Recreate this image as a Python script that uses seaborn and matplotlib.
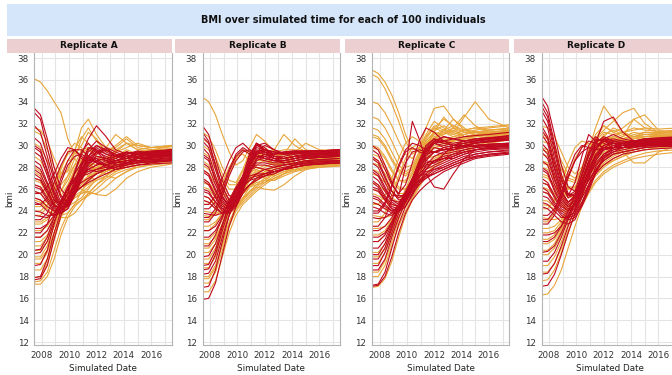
import pandas as pd
import matplotlib
matplotlib.use("Agg")
import matplotlib.pyplot as plt
from matplotlib.patches import Rectangle
import seaborn as sns

# Sampling times (decimal years) shared by every individual
TIMES = [2007.45, 2007.9, 2008.4, 2008.9, 2009.4, 2009.9, 2010.4, 2010.9,
         2011.4, 2012.0, 2012.7, 2013.4, 2014.2, 2015.0, 2016.0, 2017.5]

REPLICATES = ["Replicate A", "Replicate B", "Replicate C", "Replicate D"]
GROUPS = ["F", "M"]

# ---- Replicate A ----
A_F = [
    [36.1, 35.8, 35.0, 34.0, 33.0, 30.6, 29.2, 30.0, 31.2, 30.6, 29.4, 29.8, 30.6, 29.8, 29.6, 29.9],
    [31.6, 31.4, 30.4, 28.8, 27.4, 27.6, 29.4, 31.6, 32.4, 31.0, 29.8, 29.6, 30.2, 30.0, 29.8, 30.0],
    [31.3, 31.0, 29.6, 28.0, 27.0, 27.8, 29.6, 30.8, 30.2, 29.2, 29.8, 31.0, 30.2, 29.6, 29.8, 29.9],
    [30.2, 29.8, 28.6, 27.2, 26.4, 27.2, 28.8, 30.6, 31.6, 30.4, 29.4, 30.0, 30.8, 30.0, 29.8, 30.0],
    [29.0, 28.6, 27.4, 26.2, 25.8, 26.8, 28.2, 29.6, 29.8, 29.0, 28.8, 29.6, 29.2, 29.4, 29.6, 29.7],
    [28.0, 27.6, 26.6, 25.6, 25.4, 26.4, 27.8, 28.8, 28.4, 27.8, 28.2, 28.9, 29.4, 29.0, 29.2, 29.4],
    [27.0, 26.8, 26.0, 25.2, 24.8, 25.2, 26.4, 27.6, 28.4, 28.2, 27.6, 28.2, 28.8, 29.2, 29.0, 29.2],
    [26.4, 26.2, 25.4, 24.6, 24.2, 24.6, 25.6, 26.8, 27.8, 28.6, 28.0, 28.4, 29.0, 28.8, 29.0, 29.3],
    [25.8, 25.6, 24.8, 24.0, 23.6, 23.8, 24.6, 25.8, 26.8, 27.4, 27.8, 27.6, 28.2, 28.6, 28.8, 29.0],
    [25.0, 24.8, 24.2, 23.6, 23.4, 23.4, 23.8, 24.6, 25.6, 26.4, 27.0, 27.6, 28.0, 28.4, 28.6, 28.8],
    [24.4, 24.4, 25.0, 26.4, 28.0, 29.2, 29.6, 29.0, 28.2, 27.8, 28.4, 29.0, 29.4, 29.0, 29.3, 29.5],
    [23.6, 23.6, 24.4, 25.8, 27.4, 28.6, 28.8, 28.0, 27.2, 26.8, 27.2, 28.0, 28.6, 28.8, 29.0, 29.2],
    [22.8, 22.8, 23.2, 24.0, 25.0, 25.8, 26.2, 26.0, 25.6, 25.6, 26.2, 27.0, 27.6, 28.0, 28.3, 28.5],
    [21.6, 21.6, 22.2, 23.4, 24.6, 25.6, 26.4, 27.0, 27.6, 28.0, 27.8, 28.2, 28.8, 29.0, 29.3, 29.5],
    [20.8, 20.8, 21.6, 23.0, 24.4, 25.4, 26.0, 26.2, 26.4, 27.0, 27.6, 28.0, 28.4, 28.8, 29.0, 29.2],
    [19.8, 19.8, 20.8, 22.6, 24.2, 25.2, 25.8, 26.4, 27.0, 27.6, 28.0, 28.6, 28.8, 28.6, 28.8, 29.0],
    [19.2, 19.2, 20.2, 22.0, 23.6, 24.6, 25.2, 25.6, 25.8, 25.5, 25.4, 26.0, 27.0, 27.6, 28.0, 28.3],
    [17.9, 18.0, 19.2, 21.4, 23.4, 24.8, 25.6, 26.2, 26.8, 27.4, 27.8, 28.2, 28.6, 28.8, 29.0, 29.2],
    [17.5, 17.6, 18.4, 20.4, 22.4, 23.8, 24.6, 25.0, 25.6, 26.4, 27.2, 27.8, 28.2, 28.4, 28.6, 28.8],
    [17.3, 17.3, 18.0, 19.6, 21.8, 23.4, 24.4, 25.0, 25.4, 26.0, 26.8, 27.4, 27.8, 28.0, 28.2, 28.4],
    [27.6, 27.2, 26.2, 25.0, 24.6, 25.4, 27.0, 28.6, 29.6, 29.0, 28.4, 29.0, 29.6, 29.2, 29.5, 29.6],
    [26.8, 26.6, 25.6, 24.8, 24.8, 25.8, 27.4, 28.4, 28.2, 27.6, 28.2, 29.2, 28.8, 29.2, 29.4, 29.5],
    [25.2, 25.0, 24.4, 24.0, 24.6, 26.0, 27.8, 29.2, 29.8, 29.0, 28.6, 29.4, 30.2, 29.6, 29.4, 29.7],
    [24.0, 24.0, 24.6, 26.0, 27.8, 29.4, 30.2, 29.8, 29.0, 28.6, 28.8, 29.4, 29.8, 30.2, 29.8, 29.9],
    [23.0, 23.0, 23.4, 24.4, 25.8, 27.2, 28.2, 28.6, 28.2, 27.8, 28.4, 29.0, 28.6, 28.8, 29.2, 29.4],
    [22.2, 22.2, 22.6, 23.6, 24.8, 25.6, 26.2, 26.6, 27.2, 28.0, 28.4, 28.0, 28.4, 29.0, 28.8, 29.0],
    [21.2, 21.2, 21.8, 23.0, 24.2, 25.0, 25.4, 25.8, 26.6, 27.6, 28.4, 28.8, 28.4, 28.6, 29.0, 29.2],
    [20.4, 20.4, 21.2, 22.6, 24.0, 24.8, 25.2, 25.6, 26.2, 26.8, 27.2, 27.0, 27.6, 28.2, 28.4, 28.6],
    [19.6, 19.6, 20.4, 22.0, 23.6, 24.4, 24.8, 25.2, 26.0, 27.0, 27.8, 28.4, 28.8, 29.0, 28.8, 29.0],
    [18.6, 18.6, 19.6, 21.6, 23.6, 25.0, 26.0, 26.6, 27.2, 27.6, 27.4, 27.8, 28.4, 28.6, 28.8, 29.0],
]
A_M = [
    [33.4, 32.8, 30.6, 28.0, 26.0, 25.2, 26.2, 27.8, 29.0, 29.6, 29.2, 29.0, 29.4, 29.2, 29.4, 29.6],
    [33.0, 32.4, 29.8, 27.2, 25.4, 24.8, 25.8, 27.4, 28.6, 29.2, 29.6, 29.2, 29.0, 29.2, 29.3, 29.5],
    [30.7, 30.2, 28.4, 26.2, 24.8, 24.6, 25.8, 27.6, 29.0, 30.0, 29.4, 29.0, 29.2, 29.4, 29.3, 29.4],
    [30.0, 29.6, 27.8, 25.8, 24.6, 25.0, 26.6, 28.4, 29.8, 29.6, 28.8, 28.6, 29.0, 29.2, 29.1, 29.2],
    [29.4, 29.0, 27.2, 25.4, 24.2, 24.4, 25.6, 27.0, 28.2, 29.0, 28.8, 28.4, 28.6, 28.8, 28.9, 29.1],
    [28.6, 28.2, 26.6, 25.0, 24.2, 24.6, 26.0, 27.6, 28.8, 29.4, 29.0, 28.6, 28.8, 29.0, 29.1, 29.3],
    [27.8, 27.4, 26.0, 24.6, 24.0, 24.6, 26.2, 28.0, 29.4, 30.0, 29.6, 29.0, 29.0, 29.2, 29.3, 29.5],
    [27.0, 26.8, 25.6, 24.4, 23.8, 24.2, 25.4, 26.8, 28.0, 28.6, 28.2, 28.0, 28.4, 28.6, 28.7, 28.9],
    [26.4, 26.2, 25.2, 24.4, 24.4, 25.6, 27.4, 29.2, 30.6, 31.8, 30.8, 29.6, 29.2, 29.4, 29.4, 29.6],
    [25.8, 25.6, 24.8, 24.0, 23.8, 24.2, 25.6, 27.2, 28.4, 28.8, 28.2, 27.8, 28.2, 28.4, 28.5, 28.7],
    [25.2, 25.0, 24.4, 24.0, 24.2, 25.2, 26.8, 28.2, 29.0, 28.6, 28.0, 27.8, 28.0, 28.2, 28.4, 28.6],
    [24.6, 24.6, 25.2, 26.6, 28.2, 29.4, 29.6, 29.0, 28.6, 28.8, 28.6, 28.2, 28.4, 28.8, 28.9, 29.1],
    [24.0, 23.9, 23.6, 23.6, 24.0, 25.0, 26.4, 27.8, 28.6, 29.0, 28.8, 28.6, 28.8, 29.0, 29.1, 29.2],
    [23.2, 23.2, 23.8, 25.2, 27.0, 28.6, 29.6, 29.6, 29.0, 28.4, 28.2, 28.4, 28.6, 28.8, 29.0, 29.2],
    [22.4, 22.4, 22.8, 23.6, 24.8, 26.0, 27.0, 27.6, 27.8, 27.6, 27.8, 28.2, 28.4, 28.6, 28.7, 28.8],
    [21.6, 21.6, 22.2, 23.4, 24.8, 26.0, 26.8, 27.2, 27.4, 27.8, 28.2, 28.4, 28.6, 28.6, 28.7, 28.8],
    [20.4, 20.5, 21.6, 23.4, 25.0, 26.2, 27.0, 27.4, 27.6, 27.8, 28.0, 28.2, 28.4, 28.5, 28.6, 28.7],
    [20.1, 20.2, 21.2, 23.0, 24.6, 25.6, 26.2, 26.6, 27.0, 27.4, 27.8, 28.0, 28.2, 28.4, 28.5, 28.6],
    [17.9, 18.0, 19.6, 22.0, 24.0, 25.2, 25.8, 26.2, 26.8, 27.4, 27.8, 28.0, 28.3, 28.4, 28.5, 28.6],
    [17.7, 17.8, 19.0, 21.4, 23.6, 24.8, 25.6, 26.2, 26.6, 27.0, 27.4, 27.8, 28.0, 28.2, 28.3, 28.4],
    [31.8, 31.2, 29.0, 26.8, 25.2, 24.8, 25.6, 27.0, 28.4, 29.4, 29.8, 29.4, 29.0, 29.3, 29.5, 29.6],
    [29.8, 29.4, 27.6, 25.6, 24.4, 24.4, 25.6, 27.4, 29.0, 29.8, 29.2, 28.8, 29.2, 29.5, 29.2, 29.4],
    [28.2, 27.8, 26.4, 25.0, 24.6, 25.6, 27.6, 29.4, 30.2, 29.4, 28.6, 28.8, 29.4, 29.0, 29.2, 29.4],
    [27.4, 27.0, 25.8, 24.6, 24.2, 24.8, 26.4, 28.2, 29.6, 30.4, 29.8, 29.0, 28.8, 29.2, 29.4, 29.5],
    [26.2, 26.0, 25.0, 24.2, 24.0, 24.6, 26.0, 27.6, 28.8, 29.4, 29.6, 29.2, 28.8, 28.9, 29.2, 29.4],
    [25.6, 25.6, 26.2, 27.4, 28.8, 29.8, 29.6, 28.8, 28.4, 28.6, 28.8, 29.0, 29.4, 29.2, 29.0, 29.2],
    [24.8, 24.6, 24.0, 23.6, 23.8, 24.6, 25.8, 27.0, 27.8, 28.2, 28.4, 28.6, 28.4, 28.6, 28.9, 29.0],
    [23.6, 23.5, 23.4, 23.8, 24.8, 26.2, 27.4, 28.4, 28.8, 28.4, 28.2, 28.6, 29.0, 28.8, 28.8, 29.0],
    [22.0, 22.0, 22.8, 24.6, 26.6, 28.2, 29.0, 29.2, 28.8, 28.4, 28.2, 28.6, 28.8, 29.0, 29.2, 29.3],
    [19.0, 19.1, 20.4, 22.8, 24.8, 26.0, 26.8, 27.4, 27.8, 28.2, 28.6, 28.4, 28.6, 28.8, 29.0, 29.1],
]

# ---- Replicate B ----
B_F = [
    [34.4, 34.0, 32.8, 31.0, 29.4, 28.2, 28.6, 29.8, 31.0, 30.4, 29.4, 29.6, 29.6, 29.5, 29.5, 29.6],
    [31.2, 30.8, 29.6, 28.0, 26.8, 26.6, 27.8, 29.4, 29.4, 29.0, 29.6, 31.0, 30.0, 29.4, 29.5, 29.6],
    [30.6, 30.2, 29.0, 27.4, 26.4, 26.4, 27.6, 29.0, 30.2, 29.6, 29.0, 29.2, 30.6, 29.6, 29.4, 29.5],
    [30.0, 29.6, 28.4, 27.0, 26.0, 26.0, 27.0, 28.4, 29.4, 29.8, 29.2, 29.0, 29.4, 30.2, 29.6, 29.5],
    [29.4, 29.0, 27.8, 26.4, 25.4, 25.4, 26.6, 28.0, 29.0, 29.2, 28.8, 28.8, 29.2, 29.3, 29.3, 29.4],
    [28.6, 28.2, 27.2, 25.8, 25.0, 25.4, 26.6, 27.8, 28.6, 28.6, 28.2, 28.6, 29.0, 29.2, 29.2, 29.3],
    [27.8, 27.4, 26.4, 25.2, 24.6, 24.8, 25.8, 27.0, 27.8, 28.2, 28.0, 28.4, 28.8, 29.0, 29.1, 29.2],
    [27.0, 26.6, 25.8, 24.8, 24.2, 24.4, 25.2, 26.2, 27.0, 27.6, 27.8, 28.2, 28.6, 28.8, 28.9, 29.0],
    [26.2, 26.0, 25.2, 24.4, 24.2, 24.6, 25.6, 26.8, 27.6, 27.8, 27.4, 27.8, 28.4, 28.6, 28.8, 28.9],
    [25.4, 25.2, 24.6, 24.0, 23.8, 24.2, 25.0, 25.8, 26.2, 26.0, 25.9, 26.4, 27.2, 27.8, 28.2, 28.5],
    [24.6, 24.6, 25.2, 26.6, 28.0, 29.0, 29.2, 28.6, 28.0, 27.8, 27.6, 27.8, 28.2, 28.4, 28.6, 28.8],
    [23.6, 23.5, 23.6, 24.0, 24.8, 25.8, 26.8, 27.6, 27.8, 27.4, 27.2, 27.6, 28.0, 28.2, 28.4, 28.6],
    [22.6, 22.6, 23.0, 23.8, 24.8, 25.8, 26.6, 27.0, 27.2, 27.2, 27.4, 27.8, 28.0, 28.2, 28.3, 28.4],
    [21.4, 21.4, 22.0, 23.2, 24.4, 25.4, 26.2, 26.8, 27.4, 27.8, 28.0, 28.2, 28.4, 28.6, 28.7, 28.8],
    [20.6, 20.6, 21.4, 22.8, 24.2, 25.2, 25.8, 26.2, 26.4, 26.6, 27.0, 27.4, 27.8, 28.0, 28.2, 28.4],
    [19.6, 19.6, 20.6, 22.4, 24.0, 25.0, 25.6, 26.2, 26.8, 27.4, 27.8, 28.0, 28.2, 28.3, 28.4, 28.5],
    [18.8, 18.8, 19.8, 21.8, 23.6, 24.8, 25.6, 26.2, 26.6, 26.8, 26.8, 27.2, 27.6, 27.8, 28.0, 28.2],
    [18.0, 18.0, 19.0, 21.0, 23.0, 24.4, 25.2, 25.8, 26.4, 27.0, 27.4, 27.8, 28.0, 28.2, 28.3, 28.4],
    [17.4, 17.4, 18.4, 20.4, 22.6, 24.0, 24.8, 25.4, 26.0, 26.6, 27.2, 27.6, 27.8, 28.0, 28.1, 28.2],
    [16.6, 16.6, 17.6, 19.8, 22.0, 23.6, 24.6, 25.2, 25.8, 26.4, 27.0, 27.4, 27.7, 27.9, 28.0, 28.1],
    [28.2, 27.8, 26.8, 25.6, 24.8, 25.0, 26.2, 27.6, 28.8, 29.4, 29.0, 28.8, 29.2, 29.4, 29.3, 29.4],
    [26.6, 26.4, 25.6, 24.6, 24.2, 24.8, 26.2, 27.8, 29.0, 29.6, 29.2, 28.8, 29.0, 29.2, 29.2, 29.3],
    [25.0, 24.8, 24.2, 23.8, 24.0, 24.8, 26.0, 27.2, 28.2, 28.6, 28.2, 28.4, 28.8, 28.6, 28.8, 29.0],
    [24.0, 23.9, 23.8, 24.0, 24.6, 25.6, 26.6, 27.2, 27.4, 27.0, 26.8, 27.4, 28.2, 28.4, 28.4, 28.6],
    [23.2, 23.2, 24.0, 25.6, 27.4, 28.8, 29.6, 29.4, 28.8, 28.6, 28.4, 28.8, 29.0, 28.8, 28.9, 29.0],
    [22.2, 22.2, 22.8, 23.8, 25.0, 26.2, 27.2, 28.0, 28.6, 28.8, 28.4, 28.2, 28.6, 28.8, 28.9, 29.0],
    [21.0, 21.0, 21.6, 22.8, 24.0, 25.0, 25.8, 26.4, 26.8, 27.2, 27.6, 27.8, 27.8, 28.0, 28.2, 28.3],
    [20.2, 20.2, 21.0, 22.6, 24.2, 25.4, 26.2, 26.8, 27.4, 28.0, 28.4, 28.6, 28.4, 28.6, 28.7, 28.8],
    [19.2, 19.2, 20.2, 22.0, 23.8, 25.0, 25.8, 26.4, 27.0, 27.6, 28.0, 28.2, 28.4, 28.5, 28.6, 28.7],
    [17.8, 17.8, 18.8, 20.8, 22.8, 24.2, 25.0, 25.6, 26.2, 26.8, 27.4, 27.8, 28.0, 28.1, 28.2, 28.3],
]
B_M = [
    [31.8, 31.0, 28.8, 26.8, 25.4, 25.2, 26.6, 28.4, 29.6, 29.4, 29.2, 29.4, 29.5, 29.5, 29.5, 29.6],
    [31.2, 30.4, 28.2, 26.2, 25.0, 25.0, 26.4, 28.2, 29.4, 29.6, 29.4, 29.3, 29.4, 29.5, 29.5, 29.6],
    [30.4, 29.8, 27.8, 25.8, 24.6, 24.8, 26.4, 28.4, 30.0, 30.2, 29.6, 29.3, 29.4, 29.4, 29.5, 29.5],
    [29.8, 29.2, 27.2, 25.4, 24.4, 24.6, 26.0, 27.8, 29.2, 29.6, 29.4, 29.2, 29.3, 29.4, 29.4, 29.5],
    [29.0, 28.6, 26.8, 25.2, 24.4, 25.0, 26.8, 28.8, 30.2, 29.6, 29.0, 29.0, 29.2, 29.3, 29.3, 29.4],
    [28.4, 28.0, 26.4, 25.0, 24.2, 24.6, 26.0, 27.6, 28.8, 29.2, 29.0, 28.8, 29.0, 29.1, 29.2, 29.3],
    [27.6, 27.2, 25.8, 24.6, 24.0, 24.6, 26.2, 28.0, 29.4, 30.0, 29.6, 29.2, 29.2, 29.3, 29.3, 29.4],
    [26.8, 26.4, 25.2, 24.2, 23.8, 24.4, 25.8, 27.4, 28.6, 29.0, 28.8, 28.6, 28.8, 29.0, 29.0, 29.1],
    [26.0, 25.8, 24.8, 24.0, 24.0, 25.0, 26.8, 28.8, 30.2, 29.8, 29.0, 28.8, 29.0, 29.1, 29.2, 29.2],
    [25.4, 25.2, 24.4, 23.8, 23.8, 24.6, 26.0, 27.6, 28.8, 29.2, 28.8, 28.4, 28.6, 28.8, 28.9, 29.0],
    [24.6, 24.6, 25.4, 27.0, 28.6, 29.8, 30.2, 29.6, 29.0, 28.8, 28.6, 28.6, 28.8, 29.0, 29.1, 29.2],
    [23.8, 23.7, 23.6, 23.8, 24.6, 25.8, 27.2, 28.4, 29.0, 29.0, 28.6, 28.4, 28.6, 28.8, 28.9, 29.0],
    [23.0, 23.0, 23.8, 25.4, 27.2, 28.6, 29.4, 29.6, 29.2, 28.8, 28.6, 28.6, 28.8, 28.9, 29.0, 29.1],
    [22.2, 22.2, 22.6, 23.6, 24.8, 26.0, 27.0, 27.8, 28.2, 28.2, 28.0, 28.2, 28.4, 28.6, 28.7, 28.8],
    [20.8, 20.8, 21.8, 23.4, 25.0, 26.2, 27.2, 27.8, 28.0, 27.8, 27.6, 27.8, 28.2, 28.4, 28.5, 28.6],
    [19.8, 19.9, 21.0, 22.8, 24.6, 25.8, 26.6, 27.0, 27.2, 27.4, 27.6, 27.8, 28.0, 28.2, 28.3, 28.4],
    [19.0, 19.1, 20.4, 22.6, 24.6, 26.0, 26.8, 27.2, 27.4, 27.4, 27.6, 27.9, 28.2, 28.4, 28.5, 28.6],
    [18.6, 18.7, 20.0, 22.2, 24.2, 25.6, 26.4, 26.8, 27.0, 27.2, 27.4, 27.8, 28.0, 28.2, 28.3, 28.4],
    [18.2, 18.3, 19.4, 21.6, 23.6, 25.0, 25.8, 26.4, 26.8, 27.2, 27.6, 27.8, 28.0, 28.2, 28.3, 28.4],
    [15.9, 16.0, 17.4, 20.0, 22.6, 24.4, 25.6, 26.4, 27.0, 27.4, 27.8, 28.0, 28.2, 28.3, 28.4, 28.5],
    [30.8, 30.2, 28.2, 26.2, 25.0, 25.2, 26.8, 28.6, 29.8, 29.6, 29.2, 29.4, 29.5, 29.4, 29.5, 29.6],
    [29.2, 28.8, 26.8, 25.2, 24.6, 25.4, 27.2, 29.2, 30.0, 29.6, 29.2, 29.2, 29.4, 29.4, 29.5, 29.5],
    [27.8, 27.4, 26.0, 24.8, 24.2, 24.8, 26.4, 28.2, 29.4, 29.6, 29.4, 29.2, 29.3, 29.4, 29.4, 29.5],
    [27.0, 26.6, 25.4, 24.4, 24.2, 25.2, 27.2, 29.2, 30.2, 29.4, 28.8, 28.8, 29.0, 29.2, 29.3, 29.3],
    [25.8, 25.6, 24.8, 24.2, 24.4, 25.4, 27.0, 28.6, 29.4, 29.2, 28.8, 28.8, 29.0, 29.2, 29.2, 29.3],
    [25.0, 24.8, 24.2, 23.8, 24.0, 25.0, 26.6, 28.2, 29.2, 29.4, 29.0, 28.8, 29.0, 29.1, 29.2, 29.2],
    [24.2, 24.2, 24.8, 26.2, 27.8, 29.2, 29.8, 29.4, 29.0, 28.8, 28.6, 28.6, 28.8, 29.0, 29.0, 29.1],
    [23.4, 23.4, 24.2, 25.8, 27.6, 29.0, 29.6, 29.2, 28.8, 28.6, 28.4, 28.4, 28.6, 28.8, 28.9, 29.0],
    [21.6, 21.6, 22.2, 23.4, 24.8, 26.0, 27.0, 27.8, 28.4, 28.4, 28.2, 28.2, 28.4, 28.6, 28.7, 28.8],
    [17.0, 17.1, 18.6, 21.2, 23.6, 25.2, 26.2, 26.8, 27.4, 27.8, 28.0, 28.2, 28.3, 28.5, 28.6, 28.6],
]

# ---- Replicate C ----
C_F = [
    [36.9, 36.6, 35.8, 34.6, 33.0, 31.0, 29.6, 29.8, 31.0, 32.2, 31.6, 31.0, 31.4, 31.6, 31.7, 31.9],
    [36.5, 36.2, 35.2, 33.8, 32.2, 30.4, 29.2, 29.6, 30.8, 31.6, 32.4, 31.8, 31.2, 31.4, 31.6, 31.8],
    [34.0, 33.8, 33.0, 31.8, 30.4, 29.2, 28.8, 29.8, 31.6, 33.4, 33.6, 32.4, 31.4, 31.2, 31.4, 31.6],
    [32.6, 32.4, 31.6, 30.4, 29.0, 28.0, 28.2, 29.4, 30.8, 31.8, 31.4, 31.2, 32.6, 34.0, 32.4, 31.6],
    [31.6, 31.4, 30.6, 29.4, 28.2, 27.6, 28.0, 29.2, 30.4, 31.2, 31.0, 31.6, 32.8, 31.8, 31.2, 31.4],
    [30.8, 30.6, 29.8, 28.6, 27.6, 27.2, 27.8, 29.0, 30.2, 31.0, 31.4, 32.4, 31.6, 31.0, 31.2, 31.3],
    [30.0, 29.8, 29.0, 27.8, 26.8, 26.6, 27.4, 28.8, 30.0, 30.8, 30.4, 30.8, 31.2, 31.0, 31.1, 31.2],
    [29.2, 29.0, 28.2, 27.0, 26.2, 26.0, 26.8, 28.2, 29.6, 30.6, 30.2, 30.4, 30.8, 30.9, 31.0, 31.1],
    [28.4, 28.2, 27.4, 26.4, 25.6, 25.6, 26.6, 28.2, 29.8, 31.2, 32.6, 31.6, 30.8, 30.8, 31.0, 31.2],
    [27.4, 27.2, 26.6, 25.8, 25.2, 25.4, 26.6, 28.0, 29.4, 30.4, 30.6, 30.4, 30.6, 30.8, 30.9, 31.0],
    [26.6, 26.4, 25.8, 25.2, 24.8, 25.0, 26.2, 27.8, 29.2, 30.0, 30.2, 30.6, 31.0, 31.2, 31.0, 31.1],
    [25.6, 25.4, 25.0, 24.6, 24.4, 24.6, 25.6, 27.2, 28.8, 29.8, 30.0, 30.2, 30.4, 30.6, 30.7, 30.8],
    [24.6, 24.6, 25.4, 27.0, 28.8, 30.2, 30.8, 30.4, 30.2, 30.6, 31.0, 31.4, 30.8, 30.6, 30.8, 31.0],
    [23.6, 23.5, 23.4, 23.6, 24.2, 25.2, 26.6, 28.2, 29.6, 30.4, 30.2, 30.0, 30.4, 30.6, 30.7, 30.8],
    [22.4, 22.4, 22.6, 23.2, 24.0, 25.2, 26.6, 28.0, 29.2, 29.8, 29.6, 29.8, 30.2, 30.4, 30.6, 30.7],
    [21.2, 21.2, 21.8, 22.8, 24.0, 25.4, 26.8, 28.0, 28.8, 29.0, 29.2, 29.6, 30.0, 30.4, 30.6, 30.8],
    [20.2, 20.2, 21.0, 22.4, 23.8, 25.2, 26.4, 27.4, 28.2, 28.8, 29.2, 29.6, 30.0, 30.2, 30.4, 30.6],
    [19.2, 19.2, 20.2, 21.8, 23.4, 24.8, 26.0, 27.0, 27.8, 28.6, 29.0, 29.4, 29.8, 30.2, 30.4, 30.6],
    [18.0, 18.0, 19.0, 20.8, 22.6, 24.0, 25.2, 26.4, 27.4, 28.2, 28.8, 29.2, 29.6, 30.0, 30.3, 30.5],
    [17.0, 17.1, 17.8, 19.4, 21.6, 23.6, 25.0, 26.2, 27.2, 28.0, 28.6, 29.0, 29.4, 29.8, 30.2, 30.5],
    [31.0, 30.8, 30.0, 28.8, 27.8, 27.4, 27.8, 28.8, 29.8, 30.6, 31.2, 31.6, 31.2, 31.2, 31.4, 31.5],
    [29.8, 29.6, 28.8, 27.6, 26.8, 26.8, 27.6, 29.0, 30.6, 31.6, 31.2, 30.8, 31.0, 31.3, 31.2, 31.4],
    [28.8, 28.6, 27.8, 26.8, 26.0, 26.0, 26.8, 28.2, 29.8, 30.8, 31.2, 31.0, 31.4, 31.6, 31.4, 31.5],
    [27.8, 27.6, 26.8, 25.8, 25.2, 25.4, 26.4, 28.0, 29.8, 31.4, 31.8, 31.2, 30.8, 31.0, 31.2, 31.3],
    [26.0, 25.8, 25.2, 24.6, 24.4, 24.8, 26.0, 27.6, 29.2, 30.6, 31.4, 31.8, 31.4, 31.2, 31.2, 31.3],
    [24.8, 24.6, 24.2, 24.0, 24.4, 25.4, 27.0, 28.8, 30.4, 31.2, 30.8, 30.4, 30.6, 30.9, 31.0, 31.1],
    [23.0, 23.0, 23.8, 25.4, 27.2, 28.8, 29.8, 30.2, 30.2, 30.6, 30.4, 30.4, 30.8, 31.0, 31.0, 31.1],
    [21.8, 21.8, 22.2, 23.2, 24.6, 26.0, 27.4, 28.6, 29.4, 29.8, 30.0, 30.4, 30.6, 30.6, 30.8, 30.9],
    [19.8, 19.8, 20.6, 22.2, 23.8, 25.2, 26.4, 27.6, 28.6, 29.4, 29.8, 30.0, 30.2, 30.4, 30.6, 30.7],
    [18.4, 18.4, 19.4, 21.2, 23.2, 24.8, 26.0, 27.0, 27.8, 28.6, 29.2, 29.6, 30.0, 30.2, 30.4, 30.6],
]
C_M = [
    [30.0, 29.6, 28.2, 26.6, 25.4, 25.4, 26.6, 28.2, 29.6, 30.4, 30.2, 30.0, 30.2, 30.4, 30.6, 30.9],
    [29.6, 29.2, 27.8, 26.4, 25.6, 26.4, 28.4, 30.4, 31.6, 31.2, 30.4, 30.6, 30.8, 30.9, 31.0, 31.2],
    [29.0, 28.6, 27.2, 25.8, 25.0, 25.2, 26.4, 28.0, 29.4, 30.2, 30.4, 30.2, 30.4, 30.6, 30.7, 30.9],
    [28.4, 28.0, 26.6, 25.4, 25.4, 28.0, 32.2, 30.6, 28.6, 28.4, 29.2, 30.0, 30.4, 30.6, 30.7, 30.8],
    [27.8, 27.4, 26.2, 25.0, 24.6, 25.0, 26.2, 27.8, 29.0, 29.8, 29.6, 29.6, 30.0, 30.2, 30.4, 30.6],
    [27.2, 26.8, 25.8, 24.8, 24.4, 24.8, 26.0, 27.4, 28.6, 29.4, 29.8, 30.0, 30.2, 30.3, 30.4, 30.5],
    [26.6, 26.2, 25.2, 24.4, 24.2, 24.8, 26.2, 27.8, 29.2, 30.2, 30.8, 30.6, 30.4, 30.4, 30.5, 30.6],
    [26.0, 25.8, 25.0, 24.2, 24.0, 24.4, 25.6, 27.0, 28.2, 29.0, 29.4, 29.6, 29.8, 30.0, 30.1, 30.2],
    [25.4, 25.2, 24.6, 24.0, 24.0, 24.8, 26.4, 28.2, 29.6, 30.2, 29.8, 29.6, 29.8, 30.0, 30.1, 30.2],
    [24.8, 24.6, 24.2, 23.8, 24.0, 24.8, 26.0, 27.2, 27.4, 26.2, 26.0, 27.4, 28.8, 29.6, 29.8, 30.0],
    [24.0, 24.0, 24.8, 26.4, 28.2, 29.6, 30.2, 30.0, 29.6, 29.4, 29.6, 29.8, 30.0, 30.0, 30.0, 30.1],
    [23.4, 23.3, 23.4, 23.8, 24.6, 25.6, 26.8, 27.8, 28.4, 28.6, 28.8, 29.0, 29.4, 29.6, 29.8, 29.9],
    [22.6, 22.6, 23.4, 25.0, 26.8, 28.4, 29.4, 29.6, 29.4, 29.4, 29.6, 29.8, 29.9, 29.9, 30.0, 30.1],
    [21.6, 21.6, 22.0, 23.0, 24.2, 25.4, 26.4, 27.2, 27.8, 28.2, 28.6, 29.0, 29.4, 29.6, 29.7, 29.8],
    [20.6, 20.6, 21.4, 22.8, 24.2, 25.4, 26.4, 27.2, 27.6, 27.8, 28.0, 28.4, 28.8, 29.2, 29.4, 29.6],
    [20.0, 20.0, 21.0, 22.6, 24.2, 25.4, 26.2, 26.8, 27.2, 27.4, 27.8, 28.2, 28.6, 29.0, 29.2, 29.4],
    [19.0, 19.0, 20.2, 22.0, 23.8, 25.0, 26.0, 26.6, 27.0, 27.4, 27.8, 28.2, 28.6, 28.9, 29.1, 29.3],
    [18.6, 18.6, 19.6, 21.6, 23.4, 24.8, 25.8, 26.6, 27.2, 27.8, 28.2, 28.6, 29.0, 29.2, 29.4, 29.5],
    [17.2, 17.3, 18.4, 20.6, 22.8, 24.4, 25.6, 26.4, 27.0, 27.6, 28.0, 28.4, 28.8, 29.0, 29.2, 29.3],
    [17.1, 17.2, 18.0, 19.8, 22.0, 23.8, 25.0, 25.8, 26.4, 27.0, 27.6, 28.0, 28.4, 28.8, 29.0, 29.2],
    [28.8, 28.4, 27.0, 25.8, 25.2, 25.6, 27.0, 28.6, 30.0, 30.6, 30.2, 30.0, 30.2, 30.4, 30.6, 30.7],
    [27.6, 27.2, 26.0, 25.0, 24.8, 25.4, 26.8, 28.4, 29.6, 30.2, 30.0, 29.8, 30.0, 30.2, 30.3, 30.5],
    [26.8, 26.4, 25.4, 24.6, 24.4, 25.0, 26.6, 28.4, 29.8, 30.6, 30.4, 30.0, 30.0, 30.2, 30.4, 30.5],
    [26.2, 26.0, 25.0, 24.2, 24.0, 24.4, 25.4, 26.6, 27.8, 28.6, 28.8, 28.8, 29.2, 29.6, 29.8, 30.0],
    [25.2, 25.0, 24.4, 24.0, 24.2, 25.2, 26.8, 28.4, 29.6, 30.4, 30.8, 30.6, 30.4, 30.5, 30.6, 30.7],
    [24.4, 24.2, 23.8, 23.6, 24.0, 25.0, 26.4, 27.8, 28.8, 29.4, 29.6, 29.8, 30.0, 30.0, 30.1, 30.2],
    [23.8, 23.8, 24.6, 26.2, 28.0, 29.4, 29.8, 29.4, 29.2, 29.4, 29.2, 29.4, 29.6, 29.8, 29.9, 30.0],
    [22.2, 22.2, 22.6, 23.4, 24.6, 25.8, 27.0, 27.8, 28.2, 28.4, 28.8, 29.2, 29.6, 29.8, 29.9, 30.0],
    [21.2, 21.2, 21.8, 23.0, 24.4, 25.6, 26.6, 27.4, 28.0, 28.6, 29.0, 29.2, 29.4, 29.6, 29.7, 29.8],
    [19.6, 19.6, 20.6, 22.4, 24.2, 25.4, 26.2, 26.8, 27.4, 28.0, 28.4, 28.8, 29.2, 29.4, 29.6, 29.7],
]

# ---- Replicate D ----
D_F = [
    [31.8, 31.6, 30.8, 29.4, 28.0, 27.4, 28.0, 29.6, 31.6, 33.6, 32.4, 31.2, 31.4, 31.6, 31.5, 31.6],
    [31.0, 30.8, 30.0, 28.6, 27.4, 27.0, 27.8, 29.2, 30.6, 31.4, 32.2, 33.0, 33.4, 32.0, 31.2, 31.4],
    [30.4, 30.2, 29.2, 27.8, 26.8, 26.6, 27.6, 29.0, 30.4, 31.2, 31.0, 31.2, 31.6, 31.4, 31.3, 31.4],
    [29.8, 29.6, 28.6, 27.2, 26.2, 26.2, 27.2, 28.6, 30.0, 31.0, 31.4, 31.0, 30.8, 31.0, 31.1, 31.2],
    [29.2, 29.0, 28.0, 26.8, 26.0, 26.2, 27.4, 29.0, 30.6, 31.8, 31.2, 30.8, 32.4, 32.8, 31.4, 31.0],
    [28.6, 28.4, 27.4, 26.2, 25.4, 25.6, 26.8, 28.4, 29.8, 30.6, 30.8, 30.6, 30.8, 31.0, 31.0, 31.1],
    [28.0, 27.8, 26.8, 25.8, 25.2, 25.4, 26.6, 28.0, 29.4, 30.2, 30.4, 30.6, 30.8, 30.8, 30.9, 31.0],
    [27.4, 27.2, 26.4, 25.4, 24.8, 25.0, 26.0, 27.4, 28.8, 29.8, 30.0, 29.4, 28.4, 28.4, 29.4, 30.0],
    [26.6, 26.4, 25.6, 24.8, 24.4, 24.6, 25.8, 27.2, 28.6, 29.6, 30.2, 30.4, 30.6, 30.8, 30.8, 30.9],
    [25.8, 25.6, 25.0, 24.4, 24.2, 24.6, 25.8, 27.4, 28.8, 29.8, 30.4, 30.8, 31.2, 31.0, 30.9, 31.0],
    [25.0, 24.9, 24.4, 24.0, 24.0, 24.6, 25.8, 27.0, 28.2, 29.2, 29.8, 30.2, 30.4, 30.6, 30.7, 30.8],
    [24.2, 24.2, 25.0, 26.6, 28.4, 29.8, 30.4, 30.2, 30.0, 30.2, 30.4, 30.4, 30.4, 30.5, 30.6, 30.7],
    [23.4, 23.3, 23.2, 23.4, 24.0, 25.0, 26.4, 27.8, 29.0, 29.8, 30.0, 30.0, 30.2, 30.4, 30.5, 30.6],
    [22.4, 22.4, 22.6, 23.2, 24.2, 25.4, 26.6, 27.6, 28.4, 29.0, 29.4, 29.8, 30.0, 30.2, 30.3, 30.4],
    [21.4, 21.4, 21.8, 22.8, 24.0, 25.2, 26.4, 27.4, 28.2, 28.8, 29.2, 29.6, 29.8, 30.0, 30.1, 30.2],
    [21.0, 21.0, 21.4, 22.4, 23.6, 24.8, 25.8, 26.8, 27.6, 28.4, 29.0, 29.4, 29.8, 30.0, 30.2, 30.3],
    [20.0, 20.0, 20.6, 21.8, 23.2, 24.6, 25.8, 26.8, 27.6, 28.2, 28.6, 29.0, 29.4, 29.6, 29.8, 30.0],
    [19.0, 19.0, 19.8, 21.2, 22.8, 24.2, 25.4, 26.4, 27.2, 28.0, 28.6, 29.0, 29.4, 29.6, 29.8, 29.9],
    [18.4, 18.4, 19.2, 20.6, 22.2, 23.6, 24.8, 25.8, 26.8, 27.6, 28.2, 28.6, 29.0, 29.3, 29.5, 29.6],
    [16.3, 16.4, 17.2, 18.6, 20.6, 22.6, 24.4, 25.6, 26.6, 27.4, 28.0, 28.4, 28.8, 29.0, 29.2, 29.4],
    [30.8, 30.6, 29.6, 28.2, 27.0, 26.8, 27.8, 29.4, 31.0, 31.8, 31.2, 31.6, 32.4, 31.6, 31.2, 31.3],
    [29.6, 29.4, 28.4, 27.0, 26.0, 26.0, 27.0, 28.4, 29.8, 30.8, 31.6, 31.2, 30.8, 31.2, 31.2, 31.3],
    [28.4, 28.2, 27.2, 26.0, 25.2, 25.4, 26.6, 28.2, 29.8, 30.8, 30.6, 30.6, 31.0, 31.2, 31.1, 31.2],
    [27.2, 27.0, 26.2, 25.2, 24.6, 24.8, 26.0, 27.6, 29.2, 30.4, 30.8, 30.6, 30.6, 30.8, 30.9, 31.0],
    [26.2, 26.0, 25.4, 24.6, 24.2, 24.6, 25.8, 27.4, 29.0, 30.2, 30.8, 31.2, 30.8, 30.6, 30.8, 30.9],
    [24.6, 24.5, 24.2, 24.0, 24.2, 25.0, 26.4, 28.0, 29.4, 30.4, 30.6, 30.4, 30.4, 30.6, 30.7, 30.8],
    [23.0, 23.0, 23.8, 25.4, 27.2, 28.8, 29.8, 30.2, 30.0, 30.0, 30.2, 30.2, 30.4, 30.6, 30.6, 30.7],
    [22.0, 22.0, 22.2, 23.0, 24.0, 25.2, 26.4, 27.6, 28.6, 29.4, 29.8, 30.0, 30.2, 30.3, 30.4, 30.5],
    [20.4, 20.4, 21.0, 22.2, 23.6, 25.0, 26.2, 27.2, 28.0, 28.8, 29.2, 29.6, 29.8, 30.0, 30.1, 30.2],
    [17.6, 17.7, 18.6, 20.2, 22.0, 23.8, 25.2, 26.4, 27.4, 28.2, 28.8, 29.2, 29.6, 29.8, 29.9, 30.0],
]
D_M = [
    [34.5, 33.6, 31.0, 28.2, 26.2, 25.8, 26.8, 28.4, 29.8, 30.6, 30.4, 30.2, 30.4, 30.6, 30.7, 30.8],
    [34.0, 33.0, 30.2, 27.4, 25.6, 25.4, 26.6, 28.2, 29.6, 30.6, 31.0, 30.6, 30.4, 30.5, 30.6, 30.8],
    [33.2, 32.2, 29.4, 26.8, 25.4, 25.8, 27.8, 30.0, 30.8, 30.2, 29.8, 30.0, 30.4, 30.6, 30.6, 30.7],
    [32.6, 31.6, 28.8, 26.4, 25.2, 25.6, 27.2, 29.0, 30.2, 30.8, 30.4, 30.2, 30.3, 30.5, 30.6, 30.7],
    [31.8, 30.8, 28.4, 26.2, 25.4, 26.6, 29.0, 31.0, 30.4, 29.6, 29.8, 30.2, 30.4, 30.5, 30.6, 30.6],
    [31.0, 30.2, 27.8, 25.8, 24.8, 25.2, 26.6, 28.4, 30.2, 32.2, 32.6, 31.2, 30.4, 30.4, 30.5, 30.6],
    [30.2, 29.6, 27.4, 25.6, 24.8, 25.4, 27.2, 29.2, 30.4, 30.6, 30.2, 30.0, 30.2, 30.3, 30.4, 30.5],
    [29.4, 28.8, 26.8, 25.2, 24.4, 24.8, 26.2, 27.8, 29.2, 30.0, 30.2, 30.0, 30.0, 30.2, 30.3, 30.4],
    [28.6, 28.2, 26.4, 25.0, 24.4, 25.0, 26.6, 28.4, 29.8, 30.4, 30.2, 29.8, 30.0, 30.2, 30.3, 30.4],
    [27.8, 27.4, 25.8, 24.6, 24.0, 24.4, 25.8, 27.4, 28.8, 29.8, 30.2, 30.2, 30.2, 30.3, 30.4, 30.5],
    [27.0, 26.6, 25.4, 24.4, 24.0, 24.6, 26.0, 27.6, 29.0, 29.8, 29.8, 29.8, 30.0, 30.1, 30.2, 30.3],
    [26.2, 25.8, 24.8, 24.0, 23.6, 23.8, 24.8, 26.2, 27.6, 28.8, 29.4, 29.8, 30.0, 30.2, 30.3, 30.4],
    [25.4, 25.2, 24.4, 23.6, 23.2, 23.4, 24.4, 25.8, 27.4, 28.8, 29.6, 29.8, 30.0, 30.1, 30.2, 30.3],
    [24.4, 24.2, 23.6, 23.0, 22.8, 23.2, 24.6, 26.4, 28.0, 29.2, 29.8, 30.0, 30.1, 30.2, 30.2, 30.3],
    [23.6, 23.6, 24.2, 25.6, 27.2, 28.6, 29.4, 29.8, 29.6, 29.6, 29.8, 29.8, 29.9, 30.0, 30.1, 30.2],
    [22.8, 22.8, 23.6, 25.2, 27.0, 28.6, 29.8, 30.4, 30.2, 29.8, 29.8, 29.8, 29.9, 30.0, 30.1, 30.2],
    [21.8, 21.8, 22.0, 22.6, 23.6, 24.8, 26.2, 27.4, 28.4, 29.2, 29.6, 29.8, 29.9, 30.0, 30.1, 30.1],
    [20.2, 20.3, 20.8, 22.0, 23.4, 24.8, 26.0, 27.2, 28.2, 29.0, 29.4, 29.6, 29.8, 29.9, 30.0, 30.0],
    [18.2, 18.3, 19.2, 20.8, 22.6, 24.2, 25.6, 26.8, 27.8, 28.6, 29.2, 29.4, 29.6, 29.8, 29.9, 29.9],
    [17.1, 17.2, 18.2, 20.0, 22.0, 23.8, 25.2, 26.4, 27.4, 28.2, 28.8, 29.2, 29.4, 29.6, 29.7, 29.8],
    [33.6, 32.6, 29.8, 27.0, 25.4, 25.4, 26.8, 28.6, 30.0, 30.4, 30.2, 30.2, 30.4, 30.5, 30.6, 30.7],
    [31.4, 30.6, 28.0, 25.8, 24.8, 25.4, 27.4, 29.4, 30.6, 30.4, 30.0, 30.0, 30.2, 30.4, 30.5, 30.6],
    [29.8, 29.2, 27.0, 25.4, 24.6, 25.0, 26.4, 28.2, 29.6, 30.4, 30.6, 30.4, 30.2, 30.3, 30.4, 30.5],
    [28.0, 27.6, 26.0, 24.8, 24.2, 24.6, 26.0, 27.6, 29.0, 30.0, 30.4, 30.4, 30.3, 30.3, 30.4, 30.5],
    [26.6, 26.4, 25.2, 24.2, 23.8, 24.2, 25.4, 27.0, 28.6, 29.6, 30.0, 30.0, 30.1, 30.2, 30.3, 30.4],
    [25.8, 25.6, 24.6, 23.8, 23.4, 23.6, 24.6, 26.0, 27.6, 29.0, 29.8, 30.0, 30.1, 30.2, 30.2, 30.3],
    [24.8, 24.6, 24.0, 23.4, 23.4, 24.0, 25.4, 27.0, 28.6, 29.6, 30.0, 30.0, 30.0, 30.1, 30.2, 30.3],
    [23.2, 23.2, 24.0, 25.6, 27.6, 29.2, 30.0, 29.8, 29.6, 29.8, 29.8, 29.8, 29.9, 30.0, 30.1, 30.1],
    [21.2, 21.2, 21.6, 22.6, 24.0, 25.4, 26.8, 28.0, 29.0, 29.6, 29.8, 29.8, 29.9, 30.0, 30.0, 30.1],
    [19.4, 19.4, 20.2, 21.6, 23.2, 24.6, 25.8, 26.8, 27.8, 28.6, 29.2, 29.4, 29.6, 29.8, 29.9, 30.0],
]

Y_TICKS = list(range(12, 39, 2))
X_LABEL_YEARS = [2008, 2010, 2012, 2014, 2016]
X_GRID_YEARS = list(range(2008, 2018))

PANEL_DATA = {
    "Replicate A": (A_F, A_M),
    "Replicate B": (B_F, B_M),
    "Replicate C": (C_F, C_M),
    "Replicate D": (D_F, D_M),
}

# Long-format table: one row per individual per time point
rows = []
for rep, (fem, mal) in PANEL_DATA.items():
    for grp, series in zip(GROUPS, (fem, mal)):
        for i, vals in enumerate(series):
            for t, v in zip(TIMES, vals):
                rows.append({"replicate": rep, "sex": grp,
                             "id": f"{rep}-{grp}-{i}", "date": t, "bmi": v})
df = pd.DataFrame(rows)

PALETTE = {"F": "#e8a53a", "M": "#c0091e"}

sns.set_theme(style="white")
plt.rcParams["font.family"] = ["DejaVu Sans"]

W, H = 672, 375
fig = plt.figure(figsize=(W / 100, H / 100), dpi=100)
fig.patch.set_facecolor("white")


def fx(px):
    return px / W


def fy(py):
    return 1 - py / H


# Title band
fig.patches.append(Rectangle((fx(7), fy(36)), fx(679) - fx(7), fy(4) - fy(36),
                             transform=fig.transFigure, facecolor="#d5e6fb",
                             edgecolor="none", zorder=0))
fig.text(fx(343), fy(20), "BMI over simulated time for each of 100 individuals",
         ha="center", va="center", fontsize=7, fontweight="bold", color="#111111")

axis_left = [34.3, 202.5, 372.0, 541.5]
strip_left = [7.0, 175.0, 344.5, 514.0]
ax_w = 137.4
ax_top, ax_bot = 53.0, 345.0

for rep, axl, stl in zip(REPLICATES, axis_left, strip_left):
    ax = fig.add_axes([fx(axl), fy(ax_bot), ax_w / W, (ax_bot - ax_top) / H])
    sub = df[df["replicate"] == rep]
    sns.lineplot(data=sub, x="date", y="bmi", hue="sex", hue_order=GROUPS,
                 units="id", estimator=None, palette=PALETTE, legend=False,
                 linewidth=0.8, sort=False, ax=ax)
    ax.set_xlim(2007.45, 2017.5)
    ax.set_ylim(11.73, 38.46)
    ax.set_yticks(Y_TICKS)
    ax.set_xticks(X_GRID_YEARS)
    ax.set_xticklabels([str(y) if y in X_LABEL_YEARS else "" for y in X_GRID_YEARS])
    ax.grid(True, color="#e4e4e4", linewidth=0.8)
    ax.set_axisbelow(True)
    ax.tick_params(axis="both", labelsize=6.3, labelcolor="#333333", length=2.5,
                   width=0.6, pad=1.5, direction="out", color="#aaaaaa")
    for side in ("left", "bottom", "right"):
        ax.spines[side].set_visible(True)
        ax.spines[side].set_color("#b4b4b4")
        ax.spines[side].set_linewidth(0.8)
    ax.spines["top"].set_visible(False)
    ax.set_xlabel("Simulated Date", fontsize=6.3, color="#222222")
    ax.xaxis.set_label_coords(0.5, -(364 - ax_bot) / (ax_bot - ax_top))
    ax.set_ylabel("bmi", fontsize=6.3, color="#222222")
    ax.yaxis.set_label_coords(-(axl - (stl + 7)) / ax_w, 0.5)

    # Facet header strip
    fig.patches.append(Rectangle((fx(stl), fy(53)), (axl + ax_w - stl) / W, (53 - 39) / H,
                                 transform=fig.transFigure, facecolor="#ebcfd1",
                                 edgecolor="none", zorder=0))
    fig.text(fx((stl + axl + ax_w) / 2), fy(46), rep, ha="center", va="center",
             fontsize=6.5, fontweight="bold", color="#111111")

fig.savefig("out.png", dpi=100)
